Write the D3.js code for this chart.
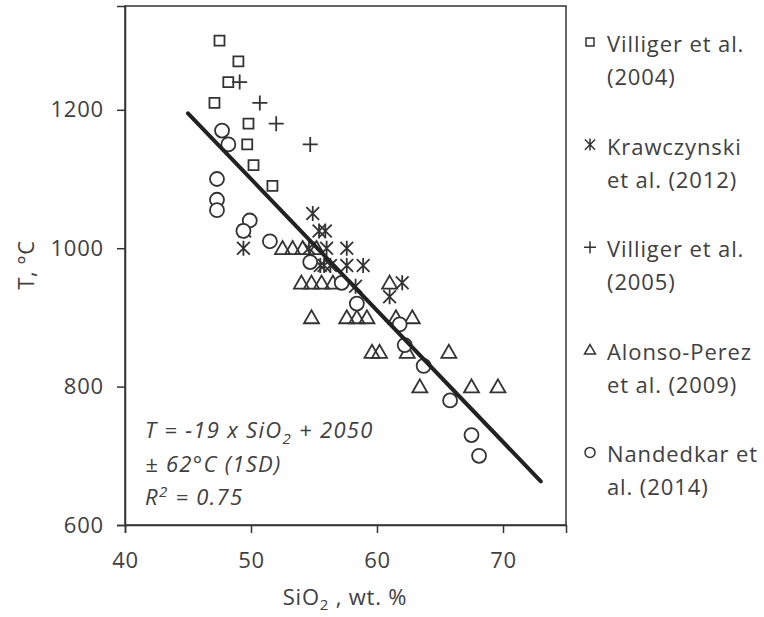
<!DOCTYPE html>
<html>
<head>
<meta charset="utf-8">
<script src="https://cdn.jsdelivr.net/npm/d3@7"></script>
<style>
  body { margin: 0; background: #fff; }
  text { font-family: "Open Sans", sans-serif; fill: #404040; }
</style>
</head>
<body>
<script>
// Data: [SiO2 wt.%, T °C]
var villiger2004 = [[47.5,1300],[49.0,1270],[48.2,1240],[47.1,1210],[49.8,1180],[49.7,1150],[50.2,1120],[51.7,1090]];
var krawczynski2012 = [[49.4,1000],[49.5,1025],[54.9,1050],[55.4,1025],[55.9,1025],[54.6,1000],[56.0,1000],[57.6,1000],
  [55.5,975],[55.8,975],[56.3,975],[57.6,975],[58.9,975],[58.3,945],[62.0,950],[61.0,930]];
var villiger2005 = [[49.1,1240],[50.7,1210],[52.0,1180],[54.7,1150]];
var alonsoPerez2009 = [[52.5,1000],[53.3,1000],[54.1,1000],[55.2,1000],
  [54.0,950],[54.8,950],[55.6,950],[56.5,950],[61.0,950],
  [54.8,900],[57.6,900],[58.4,900],[59.2,900],[61.5,900],[62.8,900],
  [59.6,850],[60.2,850],[62.4,850],[65.7,850],
  [63.4,800],[67.5,800],[69.6,800]];
var nandedkar2014 = [[47.7,1170],[48.2,1150],[47.3,1100],[47.3,1070],[47.3,1055],[49.9,1040],[49.4,1025],[51.5,1010],
  [54.7,980],[57.2,950],[58.4,920],[61.8,890],[62.2,860],[63.7,830],[65.8,780],[67.5,730],[68.1,700]];

// Regression line end points
var trendLine = [[45,1195],[73,663]];

var seriesNames = [["Villiger et al.", "(2004)"], ["Krawczynski", "et al. (2012)"], ["Villiger et al.", "(2005)"],
  ["Alonso-Perez", "et al. (2009)"], ["Nandedkar et", "al. (2014)"]];
var seriesShapes = ["square", "star", "plus", "triangle", "circle"];

var xTicks = [40, 50, 60, 70];
var yTicks = [600, 800, 1000, 1200];
var equationLines = ["T = -19 x SiO", "± 62°C (1SD)", "R", " = 0.75"];

function draw() {
  var svgWidth = 764;
  var svgHeight = 617;
  var ink = "#333";

  var svg = d3.select("body")
    .append("svg")
    .attr("width", svgWidth)
    .attr("height", svgHeight);

  // scales
  var xScale = d3.scaleLinear().domain([40, 75]).range([125, 566]);
  var yScale = d3.scaleLinear().domain([600, 1350]).range([525, 6]);

  // marker path makers, centered on 0,0
  function markerPath(shape, s) {
    var h = s / 2;
    if (shape === "square") {
      return "M" + (-h) + "," + (-h) + "H" + h + "V" + h + "H" + (-h) + "Z";
    }
    if (shape === "plus") {
      return "M" + (-h) + ",0H" + h + "M0," + (-h) + "V" + h;
    }
    if (shape === "star") {
      var d = h * 0.85;
      return "M0," + (-h) + "V" + h + "M" + (-d) + "," + (-d) + "L" + d + "," + d + "M" + (-d) + "," + d + "L" + d + "," + (-d);
    }
    if (shape === "triangle") {
      var th = s * 0.87;
      return "M0," + (-th * 0.55) + "L" + h + "," + (th * 0.45) + "H" + (-h) + "Z";
    }
    // circle
    return "M" + h + ",0A" + h + "," + h + " 0 1,1 " + (-h) + ",0A" + h + "," + h + " 0 1,1 " + h + ",0Z";
  }

  // plot frame
  svg.append("rect")
    .attr("x", xScale(40))
    .attr("y", yScale(1350))
    .attr("width", xScale(75) - xScale(40))
    .attr("height", yScale(600) - yScale(1350))
    .attr("fill", "none")
    .attr("stroke", ink)
    .attr("stroke-width", 1.5);

  // axes
  var xAxis = d3.axisBottom(xScale).tickValues(xTicks).tickSize(8).tickPadding(19).tickFormat(d3.format("d"));
  var yAxis = d3.axisLeft(yScale).tickValues(yTicks).tickSize(8).tickPadding(13).tickFormat(d3.format("d"));

  var gx = svg.append("g")
    .attr("transform", "translate(0," + yScale(600) + ")")
    .call(xAxis);
  var gy = svg.append("g")
    .attr("transform", "translate(" + xScale(40) + ",0)")
    .call(yAxis);

  [gx, gy].forEach(function (g) {
    g.select(".domain").attr("stroke", ink).attr("stroke-width", 1.5);
    g.selectAll(".tick line").attr("stroke", ink).attr("stroke-width", 1.5);
    g.selectAll(".tick text")
      .attr("fill", "#404040")
      .style("font-size", "22px")
      .style("letter-spacing", "0.8px")
      .style("font-family", "'Open Sans', sans-serif");
  });

  // data points
  var allSeries = [villiger2004, krawczynski2012, villiger2005, alonsoPerez2009, nandedkar2014];
  var sizes = { square: 10, star: 15, plus: 15, triangle: 15, circle: 14 };

  allSeries.forEach(function (data, i) {
    var shape = seriesShapes[i];
    svg.append("g")
      .selectAll("path")
      .data(data)
      .enter()
      .append("path")
      .attr("transform", function (d) { return "translate(" + xScale(d[0]) + "," + yScale(d[1]) + ")"; })
      .attr("d", markerPath(shape, sizes[shape]))
      .attr("fill", shape === "circle" ? "#fff" : "none")
      .attr("stroke", ink)
      .attr("stroke-width", 1.8);
  });

  // regression line
  var line = d3.line()
    .x(function (d) { return xScale(d[0]); })
    .y(function (d) { return yScale(d[1]); });

  svg.append("path")
    .datum(trendLine)
    .attr("d", line)
    .attr("fill", "none")
    .attr("stroke", "#222")
    .attr("stroke-width", 4)
    .attr("stroke-linecap", "round");

  // equation text
  var eq = svg.append("g").style("font-style", "italic").style("font-size", "22px").style("letter-spacing", "1.3px");
  var t1 = eq.append("text").attr("x", 145).attr("y", 438);
  t1.append("tspan").text(equationLines[0]);
  t1.append("tspan").attr("dy", 6).style("font-size", "15px").text("2");
  t1.append("tspan").attr("dy", -6).text(" + 2050");
  eq.append("text").attr("x", 145).attr("y", 472).text(equationLines[1]);
  var t3 = eq.append("text").attr("x", 145).attr("y", 505);
  t3.append("tspan").text(equationLines[2]);
  t3.append("tspan").attr("dy", -8).style("font-size", "15px").text("2");
  t3.append("tspan").attr("dy", 8).text(equationLines[3]);

  // axis labels
  svg.append("text")
    .attr("transform", "translate(34," + 265 + ") rotate(-90)")
    .attr("text-anchor", "middle")
    .style("font-size", "22px")
    .style("letter-spacing", "0.5px")
    .text("T, °C");

  var xl = svg.append("text")
    .attr("x", 345)
    .attr("y", 605)
    .attr("text-anchor", "middle")
    .style("font-size", "22px")
    .style("letter-spacing", "0.8px");
  xl.append("tspan").text("SiO");
  xl.append("tspan").attr("dy", 5).style("font-size", "15px").text("2");
  xl.append("tspan").attr("dy", -5).text(" , wt. %");

  // legend
  var legend = svg.append("g");
  var legendSizes = { square: 8, star: 12, plus: 12, triangle: 11, circle: 10 };
  seriesNames.forEach(function (name, i) {
    var y0 = 52 + i * 102.6;
    var shape = seriesShapes[i];
    legend.append("path")
      .attr("transform", "translate(590," + (y0 - 10) + ")")
      .attr("d", markerPath(shape, legendSizes[shape]))
      .attr("fill", "none")
      .attr("stroke", ink)
      .attr("stroke-width", 1.5);
    legend.append("text").attr("x", 607).attr("y", y0).style("font-size", "22px").style("letter-spacing", "0.9px").text(name[0]);
    legend.append("text").attr("x", 607).attr("y", y0 + 33).style("font-size", "22px").style("letter-spacing", "0.9px").text(name[1]);
  });
}

window.onload = draw;
</script>
</body>
</html>
